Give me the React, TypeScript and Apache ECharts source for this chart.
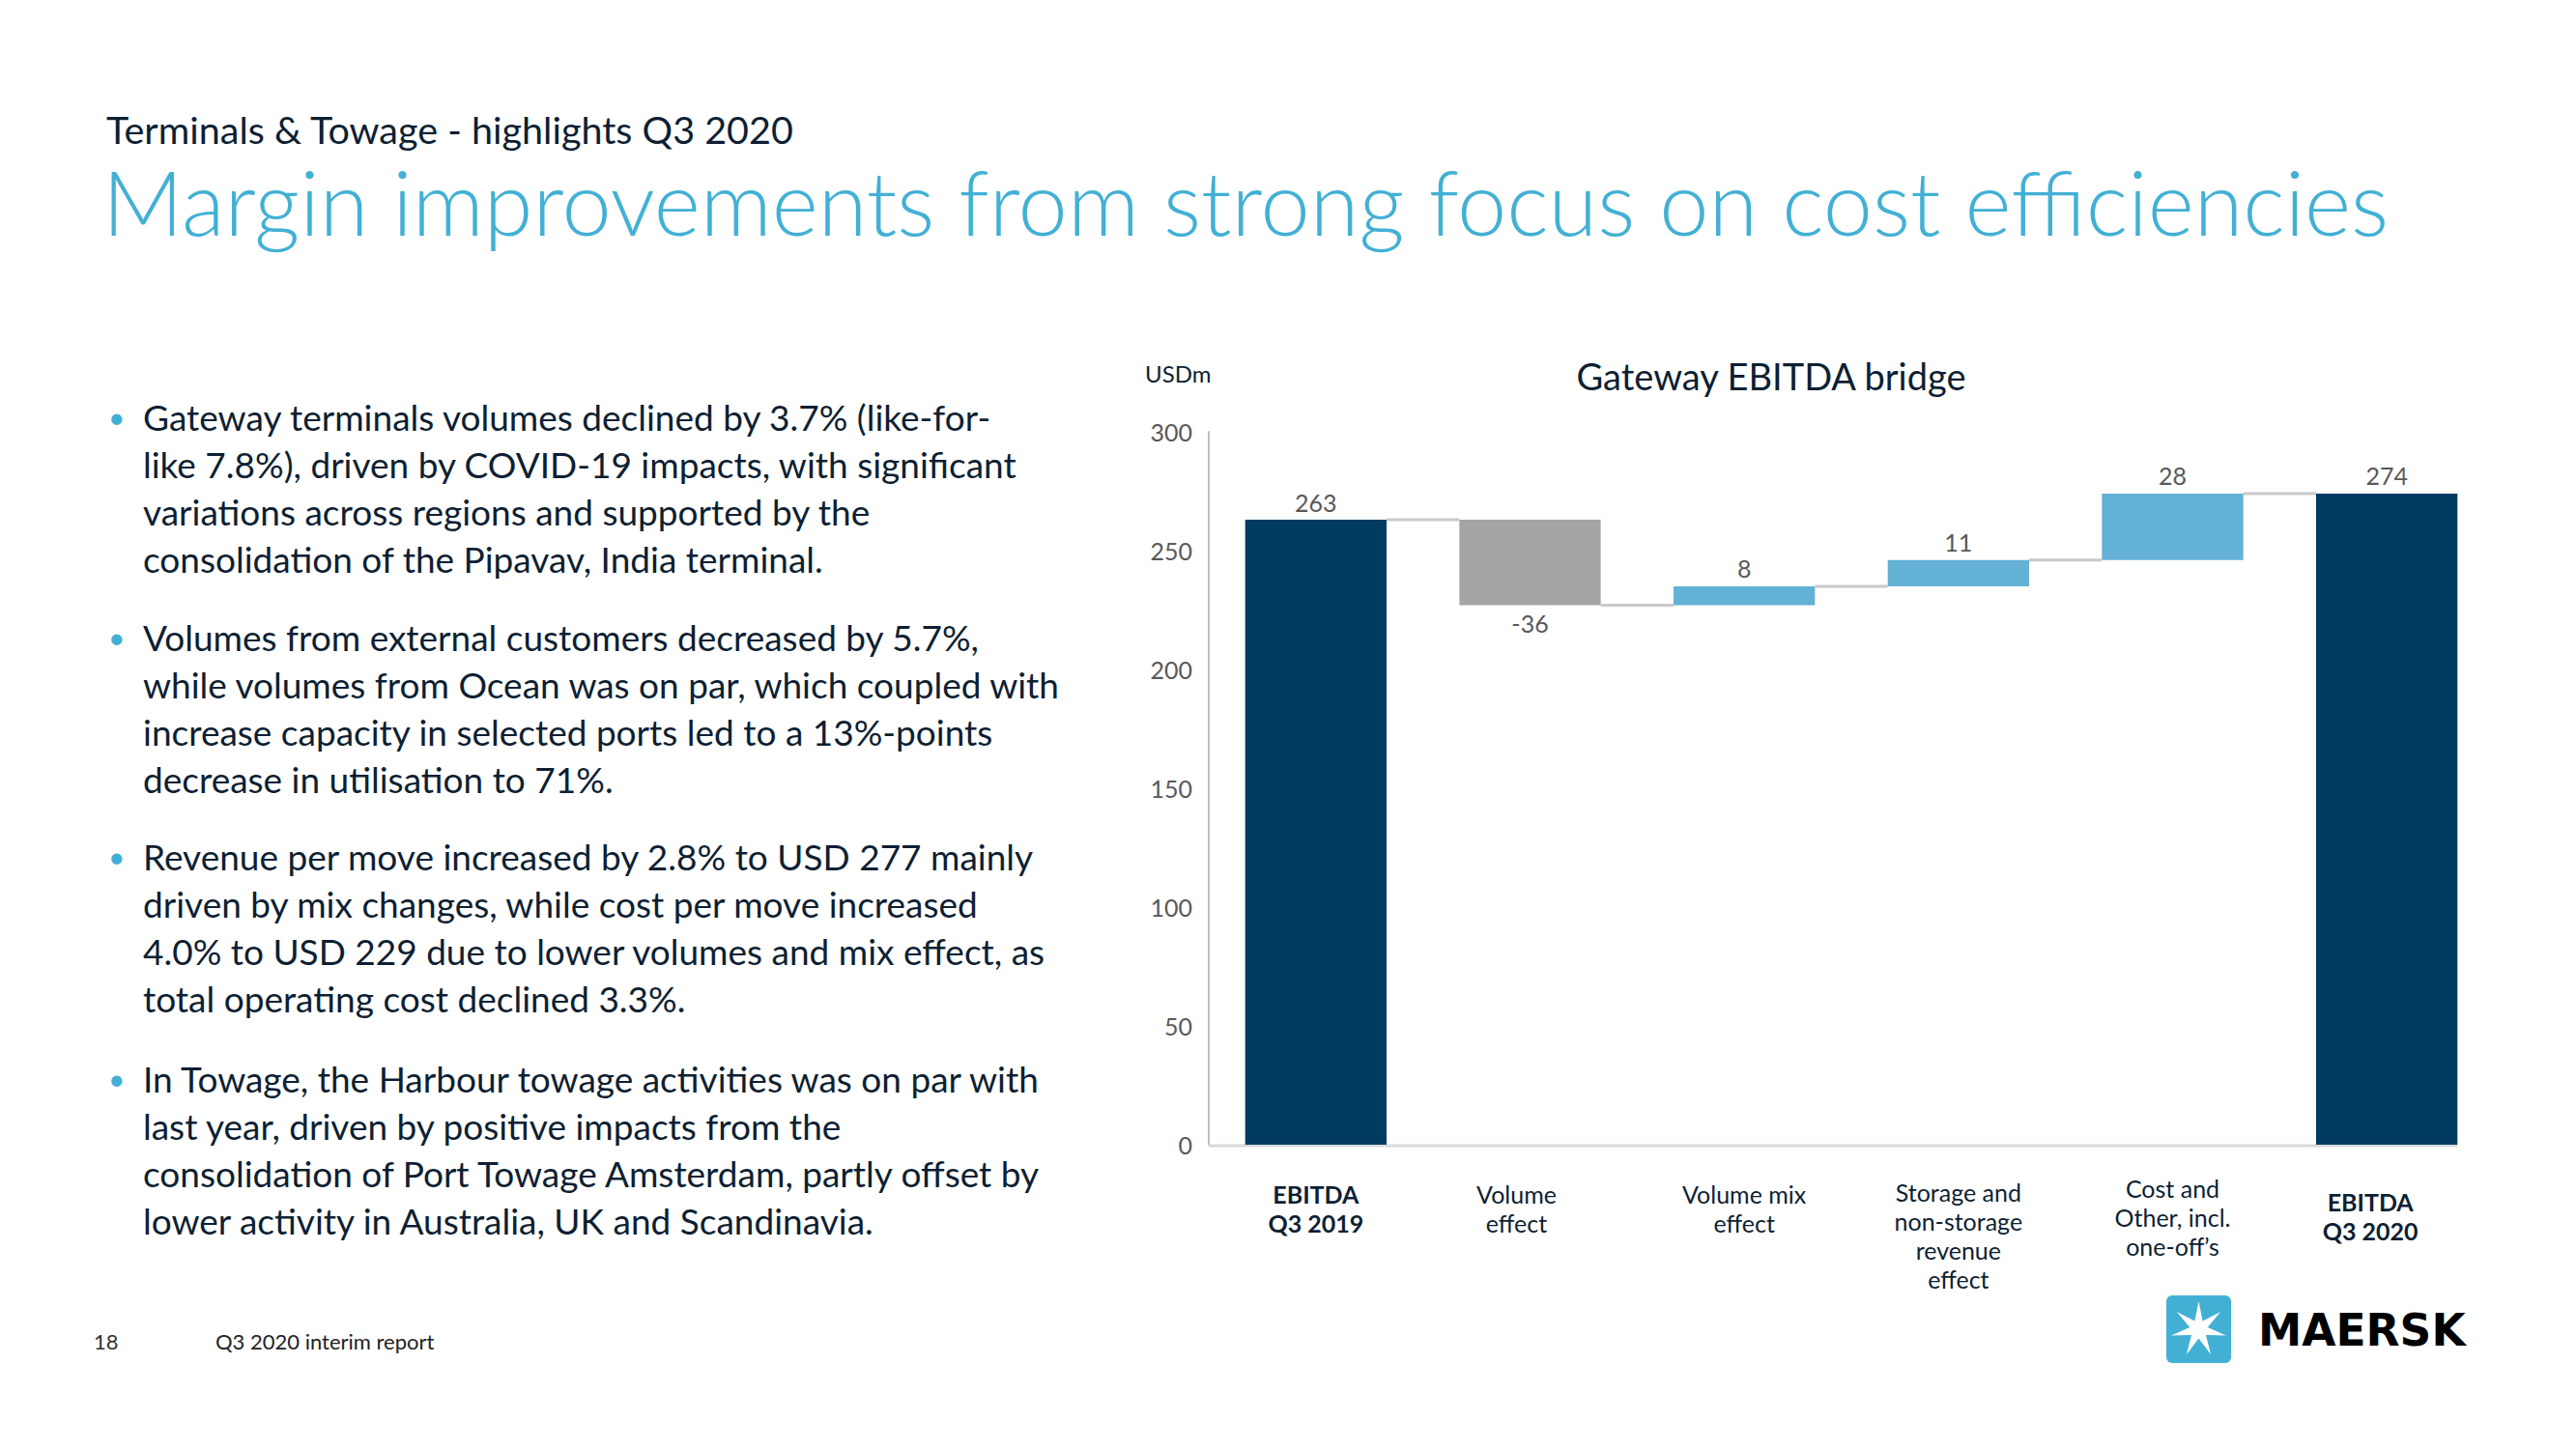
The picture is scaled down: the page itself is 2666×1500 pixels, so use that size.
import React, { useEffect, useRef } from "react";
import * as echarts from "echarts";

const categories = [
  "EBITDA\nQ3 2019",
  "Volume\neffect",
  "Volume mix\neffect",
  "Storage and\nnon-storage\nrevenue\neffect",
  "Cost and\nOther, incl.\none-off\u2019s",
  "EBITDA\nQ3 2020",
];
const values = [263, -36, 8, 11, 28, 274];
const kinds = ["total", "delta", "delta", "delta", "delta", "total"];
const yMax = 300;
const yInterval = 50;

const bullets = [
  [
    "Gateway terminals volumes declined by 3.7% (like-for-",
    "like 7.8%), driven by COVID-19 impacts, with significant",
    "variations across regions and supported by the",
    "consolidation of the Pipavav, India terminal.",
  ],
  [
    "Volumes from external customers decreased by 5.7%,",
    "while volumes from Ocean was on par, which coupled with",
    "increase capacity in selected ports led to a 13%-points",
    "decrease in utilisation to 71%.",
  ],
  [
    "Revenue per move increased by 2.8% to USD 277 mainly",
    "driven by mix changes, while cost per move increased",
    "4.0% to USD 229 due to lower volumes and mix effect, as",
    "total operating cost declined 3.3%.",
  ],
  [
    "In Towage, the Harbour towage activities was on par with",
    "last year, driven by positive impacts from the",
    "consolidation of Port Towage Amsterdam, partly offset by",
    "lower activity in Australia, UK and Scandinavia.",
  ],
];

const NAVY = "#003B62";
const GREY = "#A5A5A5";
const LIGHT = "#63B1D4";
const TEXT = "#0E1F33";
const FONT = "Lato";

// label nudges [top, right, bottom, left] padding for each category label
const labelPads = [
  [6, 0, 0, 0],
  [6, 28, 0, 0],
  [6, 0, 0, 0],
  [4, 0, 0, 0],
  [0, 0, 0, 0],
  [14, 34, 0, 0],
];

export default function App() {
  const ref = useRef<HTMLDivElement>(null);
  useEffect(() => {
    if (!ref.current) return;
    const chart = echarts.init(ref.current, undefined, { renderer: "svg" });

    const bases: number[] = [];
    const heights: number[] = [];
    const levels: number[] = [];
    let running = 0;
    values.forEach((v, i) => {
      if (kinds[i] === "total") {
        bases.push(0);
        heights.push(v);
        running = v;
      } else if (v >= 0) {
        bases.push(running);
        heights.push(v);
        running += v;
      } else {
        running += v;
        bases.push(running);
        heights.push(-v);
      }
      levels.push(running);
    });

    const barColor = (i: number) =>
      kinds[i] === "total" ? NAVY : values[i] < 0 ? GREY : LIGHT;

    const connectorData = levels.slice(0, -1).map((l, i) => [i, l]);

    const starPts: number[][] = [];
    const cx = 2275.5, cy = 1376, R = 29, r = 9.5;
    for (let k = 0; k < 14; k++) {
      const a = -Math.PI / 2 + (k * Math.PI) / 7;
      const rad = k % 2 === 0 ? R : r;
      starPts.push([cx + rad * Math.cos(a), cy + rad * Math.sin(a)]);
    }

    const paraTops = [407, 635, 862, 1092];
    const graphics: any[] = [
      {
        type: "text",
        left: 110,
        top: 113,
        style: { text: "Terminals & Towage - highlights Q3 2020", font: `39.5px ${FONT}`, fill: TEXT },
      },
      {
        type: "text",
        left: 106,
        top: 162,
        style: {
          text: "Margin improvements from strong focus on cost efficiencies",
          font: `300 92px ${FONT}`,
          fill: "#42B0D5",
        },
      },
      {
        type: "text",
        x: 1833,
        y: 389,
        style: { text: "Gateway EBITDA bridge", font: `38px ${FONT}`, fill: TEXT, align: "center", verticalAlign: "middle" },
      },
      {
        type: "text",
        x: 1185,
        y: 386,
        style: { text: "USDm", font: `24px ${FONT}`, fill: TEXT, verticalAlign: "middle" },
      },
      {
        type: "text",
        x: 97,
        y: 1388,
        style: { text: "18", font: `22px ${FONT}`, fill: "#333", verticalAlign: "middle" },
      },
      {
        type: "text",
        x: 223,
        y: 1388,
        style: { text: "Q3 2020 interim report", font: `22px ${FONT}`, fill: "#222", verticalAlign: "middle" },
      },
      {
        type: "rect",
        shape: { x: 2242, y: 1341, width: 67, height: 70, r: 6 },
        style: { fill: "#42B0D5" },
      },
      {
        type: "polygon",
        shape: { points: starPts },
        style: { fill: "#FFFFFF" },
      },
      {
        type: "text",
        x: 2337,
        y: 1377,
        style: { text: "MAERSK", font: `bold 45.5px "DejaVu Sans"`, fill: "#000", verticalAlign: "middle" },
      },
    ];
    bullets.forEach((lines, p) => {
      graphics.push({
        type: "text",
        x: 112,
        y: paraTops[p] + 24,
        style: { text: "\u2022", font: `30px ${FONT}`, fill: "#42B0D5", verticalAlign: "middle" },
      });
      graphics.push({
        type: "text",
        x: 148,
        y: paraTops[p],
        style: {
          text: lines.join("\n"),
          font: `37px ${FONT}`,
          lineHeight: 49,
          fill: TEXT,
          verticalAlign: "top",
        },
      });
    });

    const axisData = categories.map((c, i) => ({
      value: c,
      textStyle: {
        fontWeight: kinds[i] === "total" ? "bold" : "normal",
        color: TEXT,
        padding: labelPads[i],
      },
    }));

    chart.setOption({
      animation: false,
      textStyle: { fontFamily: FONT },
      grid: { left: 1251, right: 85, top: 447, bottom: 315 },
      xAxis: {
        type: "category",
        data: axisData,
        axisLine: { show: false },
        axisTick: { show: false },
        axisLabel: {
          interval: 0,
          fontSize: 25,
          lineHeight: 30,
          margin: 30,
          color: TEXT,
          fontFamily: FONT,
        },
      },
      yAxis: {
        type: "value",
        min: 0,
        max: yMax,
        interval: yInterval,
        axisLine: { show: true, lineStyle: { color: "#BFBFBF", width: 2 } },
        axisTick: { show: false },
        splitLine: { show: false },
        axisLabel: { fontSize: 25, color: "#595959", margin: 17, fontFamily: FONT },
      },
      series: [
        {
          type: "bar",
          stack: "w",
          barWidth: "66%",
          data: bases,
          itemStyle: { color: "transparent" },
          silent: true,
        },
        {
          type: "bar",
          stack: "w",
          barWidth: "66%",
          z: 3,
          data: heights.map((h, i) => ({
            value: h,
            itemStyle: { color: barColor(i) },
            label: {
              show: true,
              position: values[i] < 0 ? "bottom" : "top",
              distance: 6,
              formatter: String(values[i]),
              fontSize: 25,
              color: "#595959",
              fontFamily: FONT,
            },
          })),
        },
        {
          type: "custom",
          data: connectorData,
          z: 1,
          renderItem: (params: any, api: any) => {
            const i = api.value(0);
            const lv = api.value(1);
            const p0 = api.coord([i, lv]);
            const p1 = api.coord([i + 1, lv]);
            const bw = api.size([1, 0])[0] * 0.66;
            return {
              type: "line",
              shape: { x1: p0[0] + bw / 2, y1: p0[1], x2: p1[0] - bw / 2, y2: p1[1] },
              style: { stroke: "#C9C9C9", lineWidth: 3 },
            };
          },
        },
        {
          type: "custom",
          data: [[0, 0]],
          z: 1,
          renderItem: (params: any, api: any) => {
            const band = api.size([1, 0])[0];
            const bw = band * 0.66;
            const p0 = api.coord([0, 0]);
            const pl = api.coord([categories.length - 1, 0]);
            return {
              type: "line",
              shape: { x1: p0[0] - band / 2, y1: p0[1] + 1, x2: pl[0] + bw / 2, y2: pl[1] + 1 },
              style: { stroke: "#D9D9D9", lineWidth: 3 },
            };
          },
        },
      ],
      graphic: graphics,
    });

    return () => chart.dispose();
  }, []);
  return (
    <div
      ref={ref}
      style={{ position: "fixed", left: 0, top: 0, width: 2666, height: 1500, background: "#fff" }}
    />
  );
}
